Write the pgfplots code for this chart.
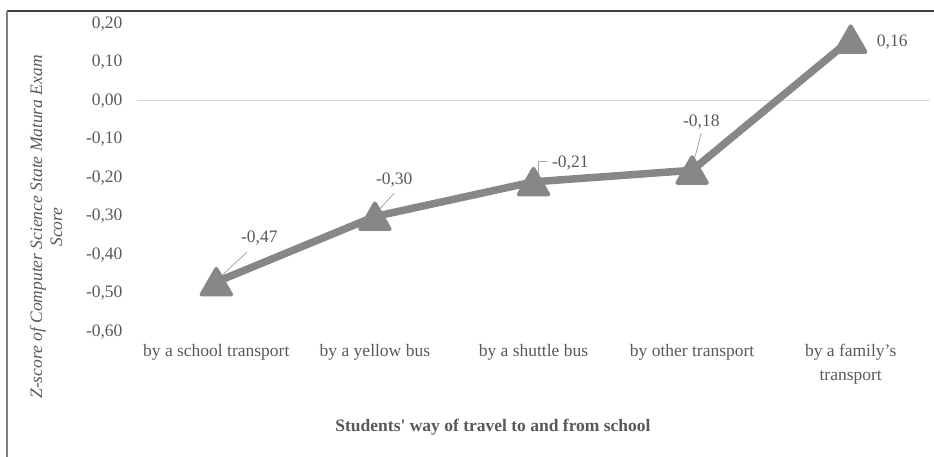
\documentclass[border=0pt]{standalone}
\usepackage{pgfplots}
\pgfplotsset{compat=1.18}
\usepackage{fontspec}
\setmainfont{Liberation Serif}
\definecolor{txt}{HTML}{595959}
\definecolor{ln}{HTML}{878787}
\definecolor{grd}{HTML}{D9D9D9}
\definecolor{ldr}{HTML}{A6A6A6}
\newcommand{\fs}{\fontsize{17.5}{24}\selectfont}
\begin{document}
\begin{tikzpicture}[x=1pt,y=1pt]
\useasboundingbox (0,0) rectangle (934,457);
\draw[color=black!75, line width=1.3pt] (7,446) -- (934,446);
\draw[color=gray, line width=1.3pt] (7,0) -- (7,446);
\begin{axis}[
 at={(137pt,125pt)}, anchor=south west,
 scale only axis, width=793pt, height=308pt,
 xmin=-0.5, xmax=4.5, ymin=-0.6, ymax=0.2,
 clip=false,
 axis line style={draw=none},
 major tick style={draw=none},
 xtick={0,1,2,3,4},
 xticklabels={by a school transport, by a yellow bus, by a shuttle bus, by other transport, {by a family's\\transport}},
 xticklabel style={align=center, font=\fs, text=txt, yshift=-9pt},
 ytick={-0.6,-0.5,-0.4,-0.3,-0.2,-0.1,0,0.1,0.2},
 yticklabels={{-0,60},{-0,50},{-0,40},{-0,30},{-0,20},{-0,10},{0,00},{0,10},{0,20}},
 yticklabel style={font=\fs, text=txt, xshift=-11pt},
 extra y ticks={0},
 extra y tick labels={},
 extra y tick style={grid=major, major grid style={draw=grd, line width=1pt}},
]
\addplot[color=ln, line width=7.5pt, line join=round, mark=triangle*, mark size=17pt,
  mark options={fill=ln, draw=ln, line width=4pt, line join=round, yshift=-4pt}]
  coordinates {(0,-0.47) (1,-0.30) (2,-0.21) (3,-0.18) (4,0.16)};
\draw[ldr, line width=0.8pt] (axis cs:0.195,-0.392) -- (axis cs:0.03,-0.455);
\draw[ldr, line width=0.8pt] (axis cs:1.122,-0.239) -- (axis cs:0.996,-0.296);
\draw[ldr, line width=0.8pt] (axis cs:2.087,-0.156) -- (axis cs:2.03,-0.156) -- (axis cs:2.03,-0.205);
\draw[ldr, line width=0.8pt] (axis cs:3.058,-0.083) -- (axis cs:3.0,-0.174);
\node[font=\fs, text=txt] at (axis cs:0.271,-0.356) {-0,47};
\node[font=\fs, text=txt] at (axis cs:1.122,-0.205) {-0,30};
\node[font=\fs, text=txt] at (axis cs:2.232,-0.161) {-0,21};
\node[font=\fs, text=txt] at (axis cs:3.058,-0.055) {-0,18};
\node[font=\fs, text=txt] at (axis cs:4.262,0.153) {0,16};
\end{axis}
\node[rotate=90, align=center, font=\fontsize{17.5}{20}\selectfont\itshape, text=txt] at (46,230) {Z-score of Computer Science State Matura Exam\\Score};
\node[font=\fs\bfseries, text=txt] at (493,30) {Students\textquotesingle{} way of travel to and from school};
\end{tikzpicture}
\end{document}
